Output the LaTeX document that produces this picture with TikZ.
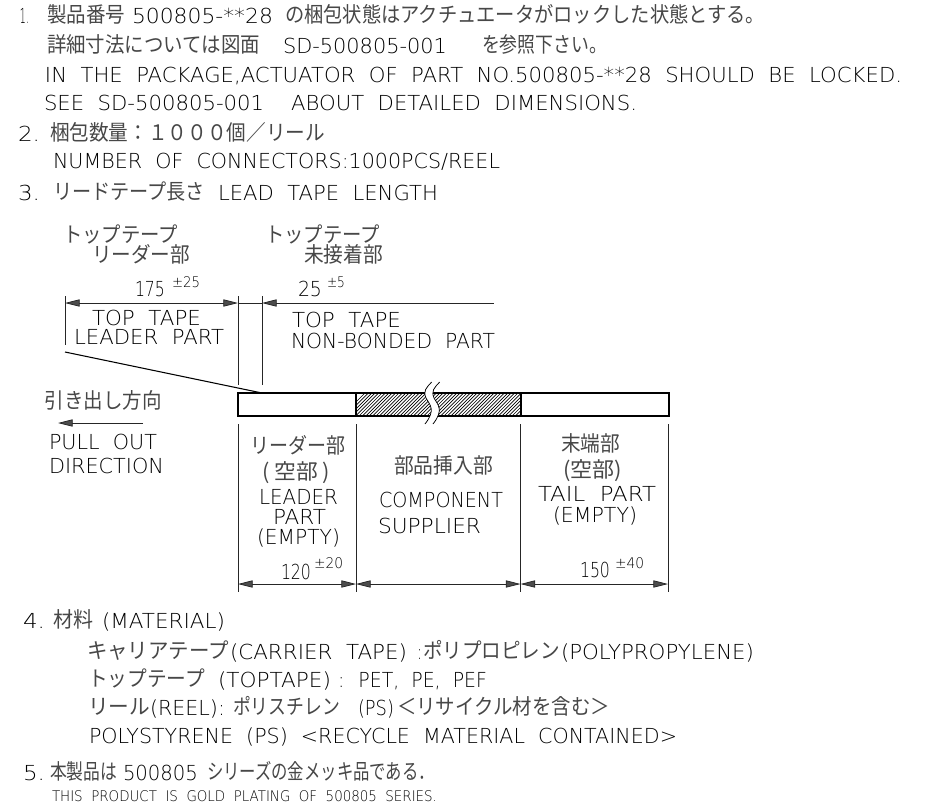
\documentclass[tikz,border=0pt]{standalone}
\usepackage{fontspec}
\usepackage{graphicx}
\usetikzlibrary{arrows.meta}
\newfontfamily\jpf{Noto Sans CJK JP}
\newfontfamily\laf[WordSpace=2]{DejaVu Sans ExtraLight}
\newdimen\pxu \pxu=0.75pt
\newcommand\tl[5]{\node[txt] (#1) at (#2,#3) {\resizebox{#4\pxu}{\height}{\fontsize{15.5pt}{18pt}\laf #5}};}
\newcommand\ts[5]{\node[txt] (#1) at (#2,#3) {\resizebox{#4\pxu}{\height}{\fontsize{11pt}{12pt}\laf #5}};}
\newcommand\tj[5]{\node[txt,text=black!72] (#1) at (#2,#3-0.8) {\resizebox{#4\pxu}{\height}{\fontsize{16pt}{18pt}\jpf #5}};}
\tikzset{
  txt/.style={anchor=base west,inner sep=0pt,outer sep=0pt,text=black},
  thinln/.style={line width=0.55pt,black!85},
  tapeln/.style={line width=1pt,black},
  tri/.tip={Triangle[length=11pt,width=5.4pt,fill=black!70]},
  hatchln/.style={line width=0.5pt,black}
}
\begin{document}
\begin{tikzpicture}[x=0.75pt,y=-0.75pt]
\useasboundingbox (0,0) rectangle (928,807);
% --- notes 1-3
\tl{n1a}{20}{23}{9}{1.}
\tj{n1b}{47}{23}{78}{製品番号}
\tl{n1c}{132}{23}{141}{500805-**28}
\tj{n1d}{285}{23}{480}{の梱包状態はアクチュエータがロックした状態とする。}
\tj{n2a}{47}{53}{213}{詳細寸法については図面}
\tl{n2b}{283}{53}{164}{SD-500805-001}
\tj{n2c}{482}{53}{125}{を参照下さい。}
\tl{n3}{45}{82}{857}{IN THE PACKAGE,ACTUATOR OF PART NO.500805-**28 SHOULD BE LOCKED.}
\tl{n4}{44}{110}{593}{SEE SD-500805-001\ \ ABOUT DETAILED DIMENSIONS.}
\tl{n5a}{18}{141}{22}{2.}
\tj{n5b}{50}{141}{275}{梱包数量：１０００個／リール}
\tl{n6}{53}{168}{447}{NUMBER OF CONNECTORS:1000PCS/REEL}
\tl{n7a}{18}{200}{22}{3.}
\tj{n7b}{53}{200}{152}{リードテープ長さ}
\tl{n7c}{218}{200}{220}{LEAD TAPE LENGTH}
% --- top labels
\tj{a1}{63}{243}{115}{トップテープ}
\tj{a2}{92}{263}{98}{リーダー部}
\tj{b1}{265}{243}{115}{トップテープ}
\tj{b2}{304}{263}{79}{未接着部}
\tl{a3}{135}{296}{30}{175}
\ts{a4}{172}{287}{28}{±25}
\tl{b3}{298}{296}{24}{25}
\ts{b4}{327}{287}{18}{±5}
\tl{a5}{92}{325}{109}{TOP TAPE}
\tl{a6}{74}{344}{150}{LEADER PART}
\tl{b5}{292}{327}{109}{TOP TAPE}
\tl{b6}{291}{348}{204}{NON-BONDED PART}
% --- top dimension
\coordinate (d1) at (65,303);
\coordinate (d2) at (238,303);
\coordinate (d3) at (262,303);
\coordinate (d4) at (494,303);
\coordinate (e1) at (65,296);
\coordinate (e1b) at (65,345);
\coordinate (e2) at (238,296);
\coordinate (e2b) at (238,385);
\coordinate (e3) at (262,296);
\coordinate (e3b) at (262,385);
\draw[thinln,{tri}-{tri}] (d1) -- (d2);
\draw[thinln] (d2) -- (d3);
\draw[thinln,{tri}-] (d3) -- (d4);
\draw[thinln] (e1) -- (e1b);
\draw[thinln] (e2) -- (e2b);
\draw[thinln] (e3) -- (e3b);
% --- tape
\coordinate (s1) at (65,352);
\coordinate (s2) at (262,393);
\draw[line width=0.8pt] (s1) -- (s2);
\begin{scope}
\clip (356,393) rectangle (521,416);
\foreach \i in {0,...,56} {\draw[hatchln] (340+3.4*\i,418) -- (368+3.4*\i,390);}
\end{scope}
\draw[tapeln] (238,393) rectangle (669,416);
\draw[tapeln] (356,393) -- (356,416);
\draw[tapeln] (521,393) -- (521,416);
% --- break
\fill[white] (431.7,382) .. controls (426,388) and (423,391) .. (426,398) .. controls (430,405) and (436,410) .. (425,424) -- (433,424) .. controls (444,410) and (438,405) .. (434,398) .. controls (431,391) and (434,388) .. (439.7,382) -- cycle;
\draw[thinln,black] (431.7,382) .. controls (426,388) and (423,391) .. (426,398) .. controls (430,405) and (436,410) .. (425,424);
\draw[thinln,black] (439.7,382) .. controls (434,388) and (431,391) .. (434,398) .. controls (438,405) and (444,410) .. (433,424);
% --- pull out
\tj{p1}{45}{409}{117}{引き出し方向}
\coordinate (p2) at (143,423);
\coordinate (p3) at (58,423);
\draw[thinln,-{tri}] (p2) -- (p3);
\tl{p4}{49}{449}{108}{PULL OUT}
\tl{p5}{49}{473}{115}{DIRECTION}
% --- lower column labels
\tj{c1}{250}{454}{95}{リーダー部}
\tj{c2}{262}{480}{68}{( 空部 )}
\tl{c3}{259}{504}{79}{LEADER}
\tl{c4}{273}{524}{53}{PART}
\tl{c5}{257}{544}{83}{(EMPTY)}
\tl{c6}{281}{579}{30}{120}
\ts{c7}{314}{568}{29}{±20}
\tj{m1}{394}{474}{99}{部品挿入部}
\tl{m2}{379}{507}{124}{COMPONENT}
\tl{m3}{378}{533}{103}{SUPPLIER}
\tj{t1}{561}{452}{59}{末端部}
\tj{t2}{563}{478}{59}{(空部)}
\tl{t3}{538}{501}{118}{TAIL PART}
\tl{t4}{553}{522}{84}{(EMPTY)}
\tl{t5}{580}{577}{30}{150}
\ts{t6}{615}{568}{29}{±40}
% --- lower dimension
\coordinate (v1a) at (238,424); \coordinate (v1b) at (238,592);
\coordinate (v2a) at (356,424); \coordinate (v2b) at (356,592);
\coordinate (v3a) at (520.5,424); \coordinate (v3b) at (520.5,592);
\coordinate (v4a) at (668,424); \coordinate (v4b) at (668,592);
\coordinate (h1) at (238,584); \coordinate (h2) at (356,584);
\coordinate (h3) at (520.5,584); \coordinate (h4) at (668,584);
\draw[thinln] (v1a) -- (v1b);
\draw[thinln] (v2a) -- (v2b);
\draw[thinln] (v3a) -- (v3b);
\draw[thinln] (v4a) -- (v4b);
\draw[thinln,{tri}-{tri}] (h1) -- (h2);
\draw[thinln,{tri}-{tri}] (h2) -- (h3);
\draw[thinln,{tri}-{tri}] (h3) -- (h4);
% --- notes 4-5
\tl{q1}{23}{628}{22}{4.}
\tj{q2}{53}{628}{40}{材料}
\tl{q3}{102}{628}{123}{(MATERIAL)}
\tj{r1}{87}{659}{142}{キャリアテープ}
\tl{r2}{230}{659}{177}{(CARRIER TAPE)}
\tl{r3}{417}{659}{5}{:}
\tj{r4}{423}{659}{137}{ポリプロピレン}
\tl{r5}{561}{659}{193}{(POLYPROPYLENE)}
\tj{u1}{88}{687}{117}{トップテープ}
\tl{u2}{218}{687}{113}{(TOPTAPE)}
\tl{u3}{338}{687}{149}{: PET, PE, PEF}
\tj{w1}{88}{715}{62}{リール}
\tl{w2}{150}{715}{75}{(REEL):}
\tj{w3}{233}{715}{107}{ポリスチレン}
\tl{w4}{358}{715}{36}{(PS)}
\tj{w5}{397}{715}{213}{＜リサイクル材を含む＞}
\tl{x1}{89}{743}{588}{POLYSTYRENE (PS) <RECYCLE MATERIAL CONTAINED>}
\tl{y1}{23}{780}{22}{5.}
\tj{y2}{50}{780}{67}{本製品は}
\tl{y3}{123}{780}{75}{500805}
\tj{y4}{207}{780}{228}{シリーズの金メッキ品である．}
\ts{z1}{52}{801}{385}{THIS PRODUCT IS GOLD PLATING OF 500805 SERIES.}
\end{tikzpicture}
\end{document}
